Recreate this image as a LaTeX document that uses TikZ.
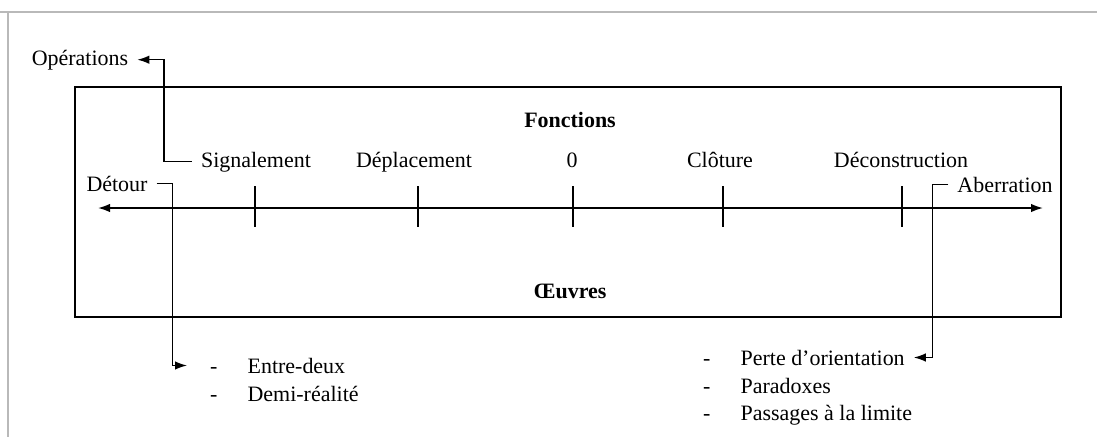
\documentclass[tikz,border=0pt]{standalone}
\usepackage{fontspec}
\setmainfont{Liberation Serif}
\usetikzlibrary{arrows.meta}

\tikzset{
  lbl/.style={font=\fontsize{12.5}{15}\selectfont, inner sep=5pt, anchor=base},
  titre/.style={lbl, font=\fontsize{12.5}{15}\selectfont\bfseries},
  conn/.style={line width=0.8pt},
  arr/.style={conn, -{Latex[length=0.24cm,width=0.17cm]}},
  tick/.style={line width=0.7pt}
}
\newcommand{\tiret}{\makebox[0.75cm][l]{-}}

\begin{document}
\begin{tikzpicture}[x=0.02cm, y=-0.02cm]
\useasboundingbox (0,0) rectangle (1097,437);
% cadre de la page
\draw[gray!55, line width=0.6pt] (0,12) -- (1097,12);
\draw[gray!55, line width=0.6pt] (8,12) -- (8,437);
% boite principale
\draw[line width=1.5pt] (75,87) rectangle (1061,317);
\node[titre] (fonct) at (570,127) {Fonctions};
\node[titre] (oeuvres) at (570,298) {Œuvres};
% axe
\coordinate (axeg) at (98,208);
\coordinate (axed) at (1043,208);
\draw[line width=1pt, {Latex[length=0.24cm,width=0.17cm]}-{Latex[length=0.24cm,width=0.17cm]}] (axeg) -- (axed);
\foreach \x in {255,418,573,723,902}
  \draw[tick] (\x,186) -- (\x,227);
% fonctions
\node[lbl] (sig) at (256,167) {Signalement};
\node[lbl] (depl) at (414,167) {Déplacement};
\node[lbl] (zero) at (572,167) {0};
\node[lbl] (clot) at (720,167) {Clôture};
\node[lbl] (decons) at (901,167) {Déconstruction};
\node[lbl] (detour) at (117,191) {Détour};
\node[lbl] (aber) at (1005,192) {Aberration};
\node[lbl] (ops) at (80,65) {Opérations};
% oeuvres
\node[lbl, anchor=base west] (entre) at (201,373) {\tiret Entre-deux};
\node[lbl, anchor=base west] (demi) at (201,401) {\tiret Demi-réalité};
\node[lbl, anchor=base west] (perte) at (694,365) {\tiret Perte d’orientation};
\node[lbl, anchor=base west] (parad) at (694,393) {\tiret Paradoxes};
\node[lbl, anchor=base west] (passag) at (694,420) {\tiret Passages à la limite};
% liaisons
\draw[arr] (sig.west) -- ++(-28,0) |- (ops.east);
\draw[arr] (detour.east) -- ++(16,0) |- ([xshift=-0.28cm]entre.west);
\draw[arr] (aber.west) -- ++(-16,0) |- (perte.east);
\end{tikzpicture}
\end{document}
